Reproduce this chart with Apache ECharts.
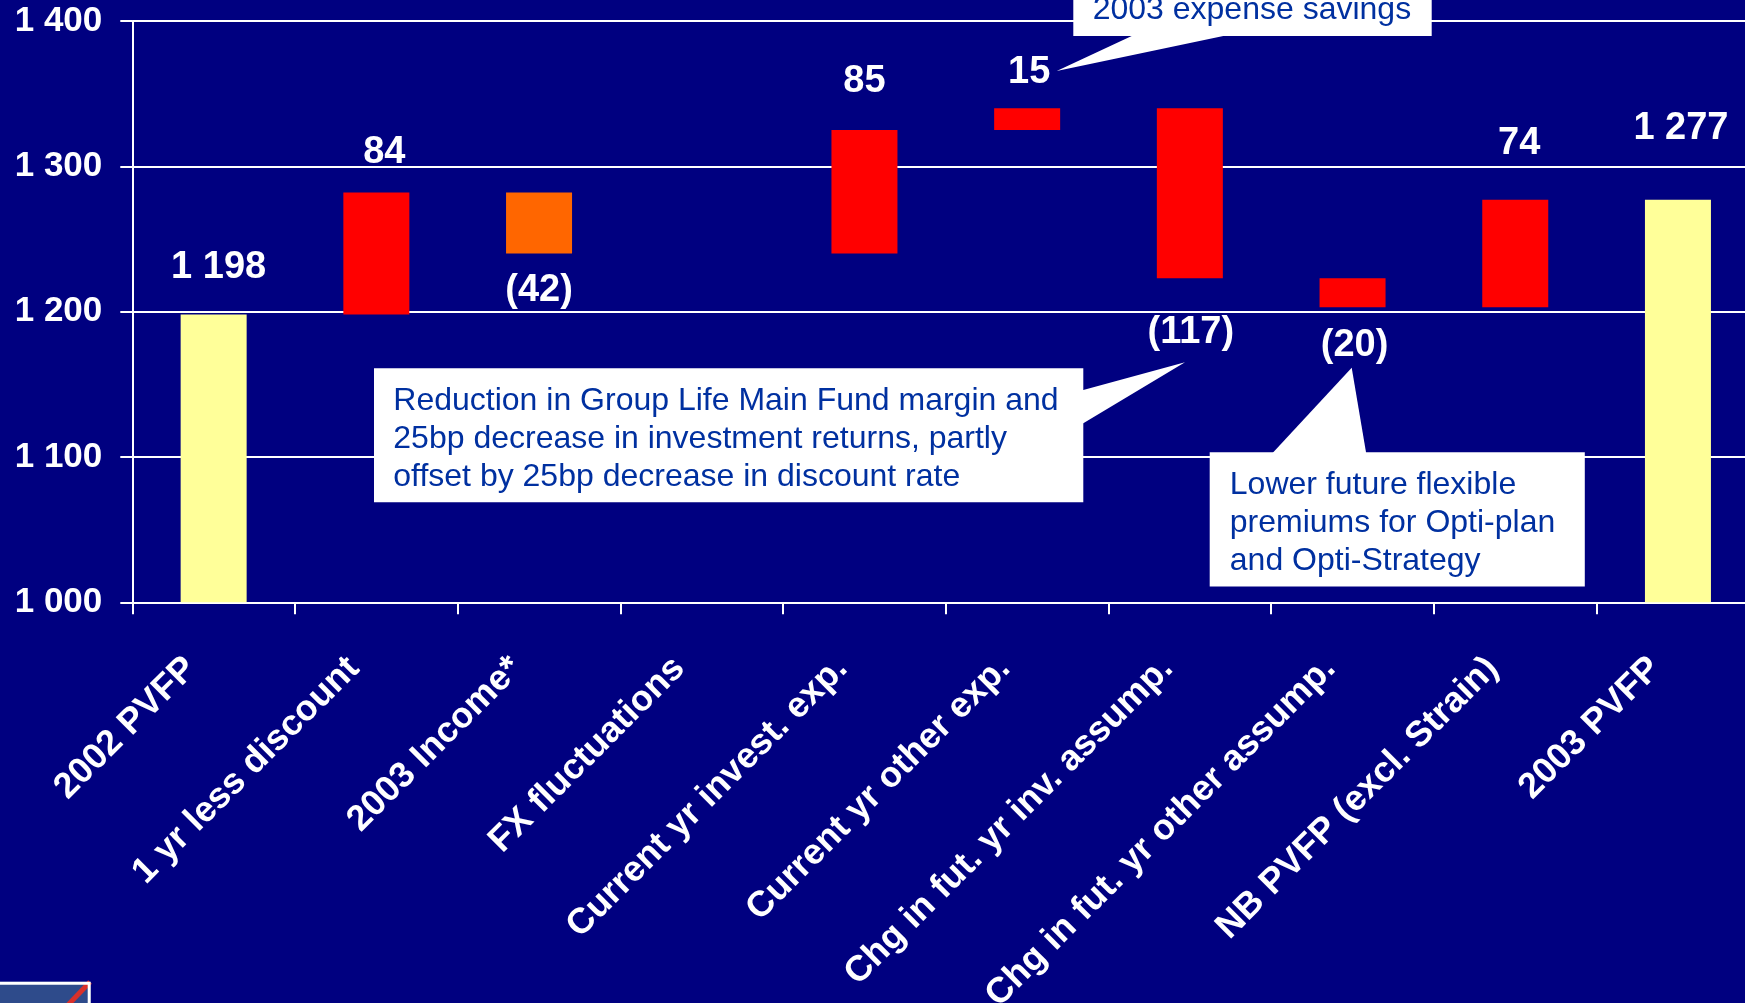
<!DOCTYPE html>
<html>
<head>
<meta charset="utf-8">
<title>PVFP movement 2002 to 2003</title>
<script src="https://cdn.jsdelivr.net/npm/echarts@6/dist/echarts.min.js"></script>
<style>
  html, body { margin: 0; padding: 0; background: #000080; overflow: hidden; }
  #chart { width: 1745px; height: 1003px; }
</style>
</head>
<body>
<div id="chart"></div>
<script>
// ---- data ----
const categories = [
  '2002 PVFP',
  '1 yr less discount',
  '2003 Income*',
  'FX fluctuations',
  'Current yr invest. exp.',
  'Current yr other exp.',
  'Chg in fut. yr inv. assump.',
  'Chg in fut. yr other assump.',
  'NB PVFP (excl. Strain)',
  '2003 PVFP'
];
// opening / closing totals and the movements in between
const changes = [1198, 84, -42, 0, 85, 15, -117, -20, 74, 1277];
const isTotal = [true, false, false, false, false, false, false, false, false, true];
const yTicks = [1000, 1100, 1200, 1300, 1400];

const calloutTexts = [
  '2003 expense savings',
  'Reduction in Group Life Main Fund margin and\n25bp decrease in investment returns, partly\noffset by 25bp decrease in discount rate',
  'Lower future flexible\npremiums for Opti-plan\nand Opti-Strategy'
];

// ---- waterfall geometry: invisible base + visible step ----
const baseVals = [];
const stepVals = [];
let running = 0;
changes.forEach((v, i) => {
  if (isTotal[i]) {
    baseVals.push(0);
    stepVals.push(v);
    running = v;
  } else {
    baseVals.push(Math.min(running, running + v));
    stepVals.push(Math.abs(v));
    running += v;
  }
});

function spaced(n) {
  return String(n).replace(/\B(?=(\d{3})+(?!\d))/g, ' ');
}
function stepLabel(i) {
  const v = changes[i];
  if (v === 0) return '';
  return v < 0 ? '(' + spaced(-v) + ')' : spaced(v);
}

// ---- styling ----
const FONT = "'Liberation Sans', Arial, Helvetica, sans-serif";
const WHITE = '#ffffff';
const NOTE_BLUE = '#0030a0';

function barColor(i) {
  if (isTotal[i]) return '#ffff99';
  if (i === 2) return '#ff6600';
  return '#ff0000';
}
// where each value label sits relative to its bar
const labelPlacement = [
  { position: 'top', distance: 28, dx: 5 },
  { position: 'top', distance: 21, dx: 8 },
  { position: 'bottom', distance: 18, dx: 0 },
  { position: 'top', distance: 10, dx: 0 },
  { position: 'top', distance: 30, dx: 0 },
  { position: 'top', distance: 17, dx: 2 },
  { position: 'bottom', distance: 35, dx: 1 },
  { position: 'bottom', distance: 19, dx: 2 },
  { position: 'top', distance: 37, dx: 4 },
  { position: 'top', distance: 52, dx: 3 }
];

const stepData = stepVals.map((v, i) => ({
  value: v,
  itemStyle: { color: barColor(i) },
  label: {
    position: labelPlacement[i].position,
    distance: labelPlacement[i].distance,
    offset: [labelPlacement[i].dx, 0]
  }
}));

// callout boxes (white speech bubbles)
function noteText(str, x, y) {
  return {
    type: 'text', z: 102, silent: true,
    style: {
      text: str, x: x, y: y,
      fill: NOTE_BLUE, fontSize: 32, fontFamily: FONT, fontWeight: 'normal',
      lineHeight: 38.4, align: 'left', verticalAlign: 'top',
      textAlign: 'left', textVerticalAlign: 'top'
    }
  };
}
function whiteRect(x, y, w, h) {
  return { type: 'rect', z: 100, silent: true, shape: { x: x, y: y, width: w, height: h }, style: { fill: WHITE } };
}
function whitePoly(points) {
  return { type: 'polygon', z: 100, silent: true, shape: { points: points }, style: { fill: WHITE } };
}

const graphics = [
  // top bubble
  whitePoly([[1131.7, 36], [1056.7, 71], [1223.3, 36], [1223.3, 20], [1131.7, 20]]),
  whiteRect(1073.3, -40, 358.4, 76),
  noteText(calloutTexts[0], 1092.7, -9.5),
  // middle bubble
  whitePoly([[1083.3, 390], [1185, 362.3], [1083.3, 423.3], [1070, 423.3], [1070, 390]]),
  whiteRect(374, 368.3, 709.3, 134),
  noteText(calloutTexts[1], 393.3, 381.6),
  // right bubble
  whitePoly([[1273.3, 452.3], [1351.7, 367.7], [1366, 452.3], [1366, 465], [1273.3, 465]]),
  whiteRect(1209.7, 452.3, 375.1, 134.2),
  noteText(calloutTexts[2], 1229.8, 465.6),
  // corner logo fragment
  { type: 'rect', z: 100, silent: true, shape: { x: -10, y: 981.7, width: 100.7, height: 40 }, style: { fill: '#2e4b8b' } },
  { type: 'line', z: 101, silent: true, shape: { x1: 90, y1: 982, x2: 67, y2: 1006 }, style: { stroke: '#d9302a', lineWidth: 5 } },
  { type: 'rect', z: 102, silent: true, shape: { x: -10, y: 983.2, width: 99.2, height: 40 }, style: { fill: 'none', stroke: WHITE, lineWidth: 3 } }
];

const chart = echarts.init(document.getElementById('chart'), null, { renderer: 'canvas' });

chart.setOption({
  backgroundColor: '#000080',
  animation: false,
  textStyle: { fontFamily: FONT },
  grid: {
    left: 132.3, top: 21.1, width: 1627, height: 581.2,
    containLabel: false, outerBoundsMode: 'none'
  },
  xAxis: {
    type: 'category',
    data: categories,
    boundaryGap: true,
    axisLine: { show: true, lineStyle: { color: WHITE, width: 2 } },
    axisTick: { show: true, length: 12, alignWithLabel: false, lineStyle: { color: WHITE, width: 2 } },
    splitLine: { show: false },
    axisLabel: {
      interval: 0, rotate: 45, margin: 38,
      color: WHITE, fontSize: 36, fontWeight: 'bold', fontFamily: FONT,
      padding: [0, 32, 0, 0]
    }
  },
  yAxis: {
    type: 'value',
    min: yTicks[0],
    max: yTicks[yTicks.length - 1],
    interval: yTicks[1] - yTicks[0],
    axisLine: { show: true, lineStyle: { color: WHITE, width: 2 } },
    axisTick: { show: true, length: 12, lineStyle: { color: WHITE, width: 2 } },
    splitLine: { show: true, lineStyle: { color: WHITE, width: 2 } },
    axisLabel: {
      margin: 30, color: WHITE, fontSize: 35, fontWeight: 'bold', fontFamily: FONT,
      formatter: v => spaced(v)
    }
  },
  series: [
    {
      name: 'base', type: 'bar', stack: 'walk', barWidth: 66,
      data: baseVals,
      itemStyle: { color: 'rgba(0,0,0,0)' },
      silent: true, emphasis: { disabled: true }
    },
    {
      name: 'step', type: 'bar', stack: 'walk', barWidth: 66,
      data: stepData,
      label: {
        show: true, color: WHITE, fontSize: 38, fontWeight: 'bold', fontFamily: FONT,
        formatter: p => stepLabel(p.dataIndex)
      },
      emphasis: { disabled: true }
    }
  ],
  graphic: { elements: graphics }
});
</script>
</body>
</html>
